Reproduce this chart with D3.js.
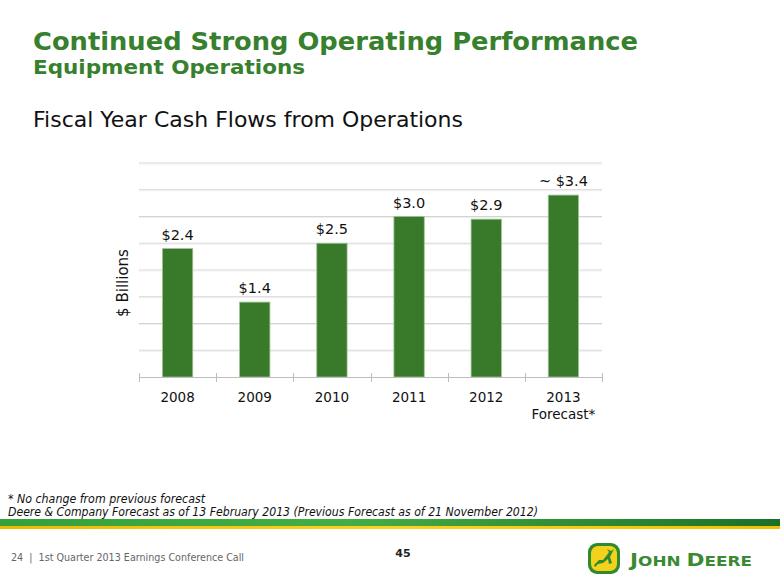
<!DOCTYPE html>
<html><head><meta charset="utf-8">
<script src="https://cdn.jsdelivr.net/npm/d3@7/dist/d3.min.js"></script>
<style>html,body{margin:0;padding:0;background:#fff;}svg{display:block;}</style>
</head><body>
<script>
const years = ["2008","2009","2010","2011","2012","2013"];
const subLabels = ["","","","","","Forecast*"];
const values = [2.4, 1.4, 2.5, 3.0, 2.95, 3.4];
const valueLabels = ["$2.4","$1.4","$2.5","$3.0","$2.9","~ $3.4"];
const gridTicks = [0.5,1,1.5,2,2.5,3,3.5,4];

const W = 780, H = 585;
const svg = d3.select("body").append("svg").attr("width", W).attr("height", H);
const defs = svg.append("defs");
const gb = defs.append("linearGradient").attr("id","band").attr("x1","0").attr("x2","1");
gb.append("stop").attr("offset","0").attr("stop-color","#35a03c");
gb.append("stop").attr("offset","0.45").attr("stop-color","#45ad45");
gb.append("stop").attr("offset","1").attr("stop-color","#1b7028");
const gy = defs.append("linearGradient").attr("id","yband").attr("x1","0").attr("x2","1");
gy.append("stop").attr("offset","0").attr("stop-color","#f2b800");
gy.append("stop").attr("offset","0.5").attr("stop-color","#ffd21f");
gy.append("stop").attr("offset","1").attr("stop-color","#f4c000");

const green = "#38792a";
const titleGreen = "#37802e";
const font = "'DejaVu Sans', Verdana, sans-serif";

// Titles
svg.append("text").attr("x",33).attr("y",50).attr("font-family",font).attr("font-weight","bold")
  .attr("font-size",25).attr("fill",titleGreen).attr("textLength",605).attr("lengthAdjust","spacingAndGlyphs")
  .text("Continued Strong Operating Performance");
svg.append("text").attr("x",33).attr("y",74).attr("font-family",font).attr("font-weight","bold")
  .attr("font-size",20).attr("fill",titleGreen).attr("textLength",272).attr("lengthAdjust","spacingAndGlyphs")
  .text("Equipment Operations");
svg.append("text").attr("x",33).attr("y",127).attr("font-family",font)
  .attr("font-size",21).attr("fill","#111").attr("textLength",430).attr("lengthAdjust","spacingAndGlyphs")
  .text("Fiscal Year Cash Flows from Operations");

// Chart
const pLeft = 139, pRight = 602, pTop = 163, pBottom = 377;
const x = d3.scaleBand().domain(years).range([pLeft,pRight]).paddingInner(0.607).paddingOuter(0.3035);
const y = d3.scaleLinear().domain([0,4]).range([pBottom, pTop]);
const step = x.step();

const g = svg.append("g");
g.selectAll("line.grid").data(gridTicks).join("line").attr("class","grid")
  .attr("x1",pLeft).attr("x2",pRight).attr("y1",d=>y(d)).attr("y2",d=>y(d))
  .attr("stroke","#d4d4d4").attr("stroke-width",1);
g.selectAll("line.grid2").data(gridTicks).join("line").attr("class","grid2")
  .attr("x1",pLeft).attr("x2",pRight).attr("y1",d=>y(d)+1).attr("y2",d=>y(d)+1)
  .attr("stroke","#efefef").attr("stroke-width",1);

g.selectAll("rect.bar").data(values).join("rect").attr("class","bar")
  .attr("x",(d,i)=>x(years[i])).attr("width",x.bandwidth())
  .attr("y",d=>y(d)).attr("height",d=>y(0)-y(d))
  .attr("fill",green).attr("stroke","#9fc394").attr("stroke-width",0.8);

// axis
g.append("line").attr("x1",pLeft).attr("x2",pRight).attr("y1",pBottom+0.5).attr("y2",pBottom+0.5)
  .attr("stroke","#bdbdbd").attr("stroke-width",1);
const bounds = years.map(d=>x(d) - step*x.paddingInner()/2).concat([pRight]);
g.selectAll("line.tick").data(bounds).join("line").attr("class","tick")
  .attr("x1",d=>Math.round(d)+0.5).attr("x2",d=>Math.round(d)+0.5).attr("y1",pBottom-4).attr("y2",pBottom+5)
  .attr("stroke","#bdbdbd").attr("stroke-width",1);

g.selectAll("text.vl").data(values).join("text").attr("class","vl")
  .attr("x",(d,i)=>x(years[i])+x.bandwidth()/2).attr("y",d=>y(d)-9)
  .attr("text-anchor","middle").attr("font-family",font).attr("font-size",14.5).attr("fill","#111")
  .text((d,i)=>valueLabels[i]);

g.selectAll("text.xl").data(years).join("text").attr("class","xl")
  .attr("x",d=>x(d)+x.bandwidth()/2).attr("y",402)
  .attr("text-anchor","middle").attr("font-family",font).attr("font-size",13.5).attr("fill","#111")
  .text(d=>d);
g.selectAll("text.xs").data(subLabels).join("text").attr("class","xs")
  .attr("x",(d,i)=>x(years[i])+x.bandwidth()/2).attr("y",419)
  .attr("text-anchor","middle").attr("font-family",font).attr("font-size",13.5).attr("fill","#111")
  .text(d=>d);

svg.append("text").attr("transform","translate(128,283) rotate(-90)").attr("text-anchor","middle")
  .attr("font-family",font).attr("font-size",15).attr("fill","#111").text("$ Billions");

// footnotes
const fn = "'DejaVu Sans', Verdana, sans-serif";
svg.append("text").attr("x",8).attr("y",503).attr("font-family",fn).attr("font-style","italic")
  .attr("font-size",12).attr("fill","#111").attr("textLength",197).attr("lengthAdjust","spacingAndGlyphs")
  .text("* No change from previous forecast");
svg.append("text").attr("x",8).attr("y",516).attr("font-family",fn).attr("font-style","italic")
  .attr("font-size",12).attr("fill","#111").attr("textLength",530).attr("lengthAdjust","spacingAndGlyphs")
  .text("Deere & Company Forecast as of 13 February 2013 (Previous Forecast as of 21 November 2012)");

// band
svg.append("rect").attr("x",0).attr("y",519).attr("width",W).attr("height",7).attr("fill","url(#band)");
svg.append("rect").attr("x",0).attr("y",526).attr("width",W).attr("height",3).attr("fill","url(#yband)");

// footer
svg.append("text").attr("x",11).attr("y",561).attr("font-family",fn).attr("font-size",10)
  .attr("fill","#666").attr("textLength",233).attr("lengthAdjust","spacingAndGlyphs")
  .style("white-space","pre")
  .text("24  |  1st Quarter 2013 Earnings Conference Call");
svg.append("text").attr("x",403).attr("y",557).attr("text-anchor","middle").attr("font-family",fn)
  .attr("font-size",11).attr("font-weight","bold").attr("fill","#222").text("45");

// logo
const lg = svg.append("g").attr("transform","translate(588,543)");
lg.append("rect").attr("x",0).attr("y",0).attr("width",32).attr("height",31).attr("rx",9).attr("fill","#2f8a2e");
lg.append("rect").attr("x",3).attr("y",3).attr("width",26).attr("height",25).attr("rx",7).attr("fill","#f2d21c");
lg.append("path").attr("d","M6,22 L11,17 L15,17 L19,12 L21,9 L19,6 L23,8 L26,6 L24,10 L22,14 L24,20 L21,21 L20,16 L15,20 L10,21 L7,24 Z")
  .attr("fill","#2f8a2e");
const jt = svg.append("text").attr("x",630).attr("y",566).attr("font-family",font).attr("font-weight","bold")
  .attr("fill","#3a8a32").attr("textLength",122).attr("lengthAdjust","spacingAndGlyphs");
jt.append("tspan").attr("font-size",18).text("J");
jt.append("tspan").attr("font-size",14).text("OHN ");
jt.append("tspan").attr("font-size",18).text("D");
jt.append("tspan").attr("font-size",14).text("EERE");
</script>
</body></html>
